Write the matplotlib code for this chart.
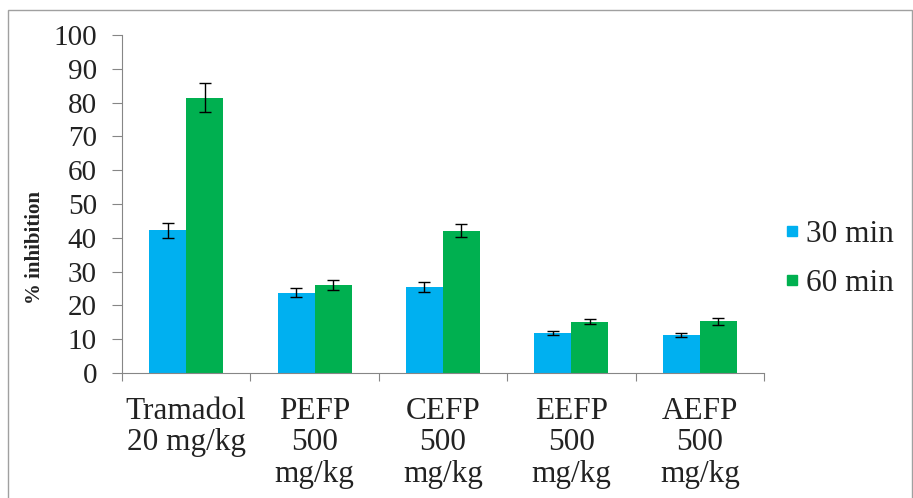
import numpy as np
import matplotlib.pyplot as plt
from matplotlib.lines import Line2D
from matplotlib.patches import Rectangle

plt.rcParams['font.family'] = ['Liberation Serif', 'DejaVu Serif']

groups = ['Tramadol\n20 mg/kg', 'PEFP\n500\nmg/kg', 'CEFP\n500\nmg/kg',
          'EEFP\n500\nmg/kg', 'AEFP\n500\nmg/kg']
min30 = [42.2, 23.8, 25.5, 11.8, 11.2]
min30_err = [2.2, 1.4, 1.4, 0.5, 0.6]
min60 = [81.5, 26.0, 42.1, 15.2, 15.3]
min60_err = [4.3, 1.5, 2.0, 0.8, 1.0]
series = ['30 min', '60 min']
colors = ['#00B0F0', '#00B050']

fig = plt.figure(figsize=(9.13, 4.98), dpi=100)
ax = fig.add_axes([0.1336, 0.251, 0.7032, 0.6787])

x = np.arange(len(groups))
w = 0.288
ax.bar(x - w/2, min30, w, color=colors[0], yerr=min30_err,
       error_kw=dict(ecolor='black', elinewidth=1, capsize=4, capthick=1))
ax.bar(x + w/2, min60, w, color=colors[1], yerr=min60_err,
       error_kw=dict(ecolor='black', elinewidth=1, capsize=4, capthick=1))

ax.set_xlim(-0.5, len(groups) - 0.5)
ax.set_ylim(0, 100)
ax.set_yticks(range(0, 101, 10))
ax.tick_params(axis='y', labelsize=21, length=7, pad=11, color='#868686',
               labelcolor='#222222')

# category boundary ticks, labels at centres
ax.set_xticks(np.arange(-0.5, len(groups)), minor=False)
ax.set_xticklabels([])
ax.set_xticks(x, minor=True)
ax.set_xticklabels(groups, minor=True, fontsize=22.5, linespacing=1.12,
                   va='top', color='#222222')
ax.tick_params(axis='x', which='major', length=6, color='#868686')
ax.tick_params(axis='x', which='minor', length=0, pad=17)

for s in ['top', 'right']:
    ax.spines[s].set_visible(False)
for s in ['left', 'bottom']:
    ax.spines[s].set_color('#868686')

fig.text(0.038, 0.504, '% inhibition', rotation=90, fontsize=15,
         fontweight='bold', ha='center', va='center', color='#222222')

handles = [Line2D([], [], marker='s', linestyle='none', markersize=7.5,
                  color=c) for c in colors]
fig.legend(handles, series, loc='center left', bbox_to_anchor=(0.826, 0.48),
           frameon=False, fontsize=22.5, handlelength=0.6, handletextpad=0.15,
           labelspacing=0.65, labelcolor='#222222')

fig.patches.append(Rectangle((0.009, -0.1), 0.99, 1.08, transform=fig.transFigure,
                             fill=False, edgecolor='#a0a0a0', linewidth=1))

plt.savefig('out.png', dpi=100)
